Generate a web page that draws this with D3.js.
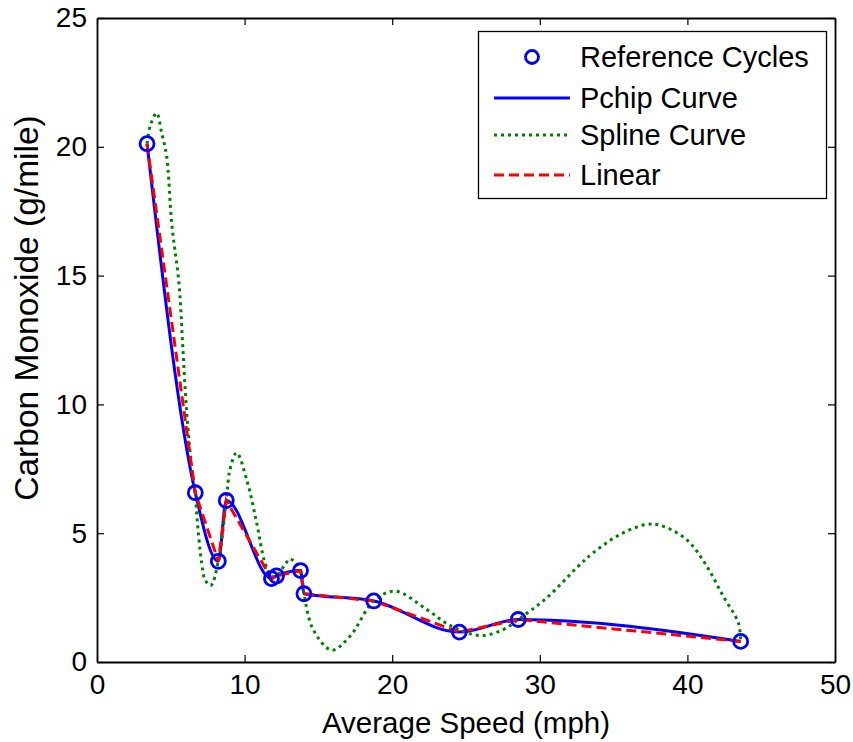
<!DOCTYPE html>
<html>
<head>
<meta charset="utf-8">
<script src="https://cdn.jsdelivr.net/npm/d3@7"></script>
<style>
    body { margin: 0; background: #fff; }
    svg text { font-family: "Liberation Sans", Arial, sans-serif; fill: #000; }
</style>
</head>
<body>
<svg id="chart" width="853" height="742"></svg>
<script>
// reference cycles (average speed vs CO)
var speed = [3.39, 6.66, 8.22, 8.76, 11.82, 12.16, 13.79, 14.02, 18.75, 24.55, 28.54, 43.61];
var co = [20.12, 6.57, 3.91, 6.27, 3.24, 3.34, 3.55, 2.65, 2.37, 1.16, 1.65, 0.80];

// spline curve
var splineSpeed = [3.39, 3.59, 4.04, 4.38, 4.72, 5.06, 5.56, 5.81, 6.08, 6.48, 6.66, 6.75, 7.09, 7.32, 7.70,
    8.22, 8.76, 9.01, 9.46, 10.14, 10.82, 11.38, 11.84, 12.16, 12.74, 13.08, 13.79, 14.02, 14.65, 15.90,
    17.14, 18.75, 20.19, 22.34, 23.92, 25.95, 27.53, 28.54, 30.47, 32.61, 33.62, 35.43, 37.24, 38.14,
    39.95, 41.31, 42.43, 43.45, 43.61];
var splineCO = [20.12, 20.79, 21.31, 20.54, 19.63, 17.04, 14.65, 12.25, 9.67, 7.21, 6.57, 5.79, 3.85, 3.20, 2.97,
    3.91, 6.27, 7.47, 8.12, 7.08, 5.40, 3.85, 3.33, 3.34, 3.78, 4.00, 3.55, 2.65, 1.26, 0.46,
    1.00, 2.37, 2.75, 2.04, 1.42, 1.03, 1.26, 1.65, 2.49, 3.72, 4.24, 4.95, 5.34, 5.31,
    4.75, 3.72, 2.55, 1.52, 0.80];

var xTicks = [0, 10, 20, 30, 40, 50];
var yTicks = [0, 5, 10, 15, 20, 25];
var legendLabels = ['Reference Cycles', 'Pchip Curve', 'Spline Curve', 'Linear'];

var margin = { top: 18, right: 18, bottom: 80, left: 97 };
var width = 853, height = 742;
var svg = d3.select('#chart');

var x = d3.scaleLinear().domain([0, 50]).range([margin.left, width - margin.right]);
var y = d3.scaleLinear().domain([0, 25]).range([height - margin.bottom, margin.top]);

svg.append('clipPath').attr('id', 'clip')
    .append('rect')
    .attr('x', x(0)).attr('y', y(25))
    .attr('width', x(50) - x(0)).attr('height', y(0) - y(25));

var pts = speed.map(function (s, i) { return [s, co[i]]; });
var splinePts = splineSpeed.map(function (s, i) { return [s, splineCO[i]]; });

function lineWith(curve) {
    return d3.line()
        .x(function (d) { return x(d[0]); })
        .y(function (d) { return y(d[1]); })
        .curve(curve);
}

var plot = svg.append('g').attr('clip-path', 'url(#clip)');

// pchip
plot.append('path')
    .attr('d', lineWith(d3.curveMonotoneX)(pts))
    .attr('fill', 'none').attr('stroke', '#0000ff').attr('stroke-width', 3);

// spline
plot.append('path')
    .attr('d', lineWith(d3.curveCatmullRom.alpha(0.5))(splinePts))
    .attr('fill', 'none').attr('stroke', '#008000').attr('stroke-width', 3)
    .attr('stroke-dasharray', '3,4');

// linear
plot.append('path')
    .attr('d', lineWith(d3.curveLinear)(pts))
    .attr('fill', 'none').attr('stroke', '#ff0000').attr('stroke-width', 3)
    .attr('stroke-dasharray', '10,5');

// markers
plot.selectAll('circle.ref')
    .data(pts)
    .enter().append('circle')
    .attr('class', 'ref')
    .attr('cx', function (d) { return x(d[0]); })
    .attr('cy', function (d) { return y(d[1]); })
    .attr('r', 7)
    .attr('fill', 'none').attr('stroke', '#0000ff').attr('stroke-width', 2.8);

// axes, matlab style box with inward ticks on all sides
var tickLen = 7;
var axes = svg.append('g');
axes.append('g')
    .attr('transform', 'translate(0,' + y(0) + ')')
    .call(d3.axisBottom(x).tickValues(xTicks).tickSizeInner(-tickLen).tickSizeOuter(0).tickPadding(12));
axes.append('g')
    .attr('transform', 'translate(' + x(0) + ',0)')
    .call(d3.axisLeft(y).tickValues(yTicks).tickSizeInner(-tickLen).tickSizeOuter(0).tickPadding(10));
axes.append('g')
    .attr('transform', 'translate(0,' + y(25) + ')')
    .call(d3.axisTop(x).tickValues(xTicks).tickSizeInner(-tickLen).tickSizeOuter(0).tickFormat(''));
axes.append('g')
    .attr('transform', 'translate(' + x(50) + ',0)')
    .call(d3.axisRight(y).tickValues(yTicks).tickSizeInner(-tickLen).tickSizeOuter(0).tickFormat(''));

axes.selectAll('.domain').attr('stroke', '#000').attr('stroke-width', 1.8);
axes.selectAll('.tick line').attr('stroke', '#000').attr('stroke-width', 1.2);
axes.selectAll('.tick text')
    .attr('font-family', '"Liberation Sans", Arial, sans-serif')
    .attr('font-size', 28).attr('fill', '#000');

// axis titles
svg.append('text')
    .attr('x', (x(0) + x(50)) / 2).attr('y', 733)
    .attr('text-anchor', 'middle').attr('font-size', 29.5)
    .text('Average Speed (mph)');
svg.append('text')
    .attr('transform', 'translate(38,' + 308 + ') rotate(-90)')
    .attr('text-anchor', 'middle').attr('font-size', 33.5)
    .text('Carbon Monoxide (g/mile)');

// legend
var legend = svg.append('g');
legend.append('rect')
    .attr('x', 478.5).attr('y', 31.5).attr('width', 348).attr('height', 167)
    .attr('fill', '#fff').attr('stroke', '#000').attr('stroke-width', 1.3);

var rowY = [57, 98, 135, 175];
var sampleX0 = 494, sampleX1 = 570;
legendLabels.forEach(function (label, i) {
    var ry = rowY[i];
    if (i === 0) {
        legend.append('circle')
            .attr('cx', (sampleX0 + sampleX1) / 2).attr('cy', ry).attr('r', 6.5)
            .attr('fill', 'none').attr('stroke', '#0000ff').attr('stroke-width', 2.8);
    } else {
        var ln = legend.append('line')
            .attr('x1', sampleX0).attr('x2', sampleX1)
            .attr('y1', ry).attr('y2', ry)
            .attr('stroke-width', 3);
        if (i === 1) ln.attr('stroke', '#0000ff');
        if (i === 2) ln.attr('stroke', '#008000').attr('stroke-dasharray', '3,4');
        if (i === 3) ln.attr('stroke', '#ff0000').attr('stroke-dasharray', '10,5');
    }
    legend.append('text')
        .attr('x', 580).attr('y', ry)
        .attr('dy', '0.35em').attr('font-size', 29)
        .text(label);
});
</script>
</body>
</html>
